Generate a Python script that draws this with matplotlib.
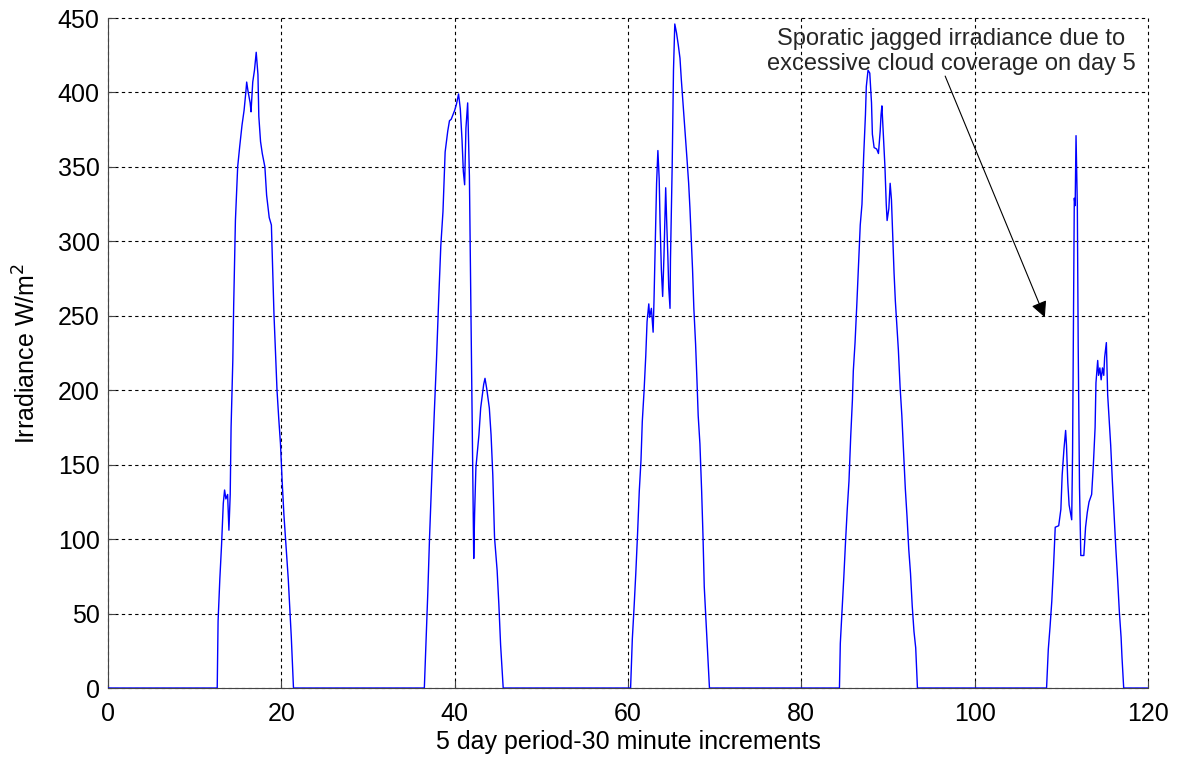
import numpy as np
import matplotlib
matplotlib.use("Agg")
import matplotlib.pyplot as plt

plt.rcParams['font.family'] = ['Liberation Sans', 'DejaVu Sans']

# hours (30 minute samples) and irradiance for each of the 5 days
day1_x = [12.6, 12.7, 12.9, 13.1, 13.3, 13.45, 13.6, 13.8, 13.95, 14.1, 14.2, 14.4, 14.5, 14.7, 14.96,
          15.2, 15.46, 15.7, 15.9, 16.0, 16.15, 16.4, 16.5, 16.7, 16.9, 17.1, 17.3, 17.4, 17.6, 17.8,
          18.1, 18.3, 18.6, 18.85, 19.0, 19.15, 19.3, 19.5, 19.7, 19.9, 20.1, 20.3, 20.5, 20.8, 21.0,
          21.15, 21.4]
day1_y = [0, 45, 73, 96, 124, 133, 127, 130, 106, 130, 175, 220, 257, 314, 350,
          364, 378, 388, 400, 407, 401, 393, 387, 407, 415, 427, 412, 384, 367, 359,
          350, 331, 316, 311, 280, 251, 229, 200, 181, 164, 138, 116, 99, 73, 51,
          34, 0]

day2_x = [36.5, 36.7, 36.9, 37.1, 37.4, 37.65, 37.9, 38.15, 38.4, 38.65, 38.9, 39.2, 39.4, 39.6,
          40.0, 40.2, 40.45, 40.65, 40.85, 41.0, 41.15, 41.3, 41.5, 41.7, 41.9, 42.1, 42.2, 42.3,
          42.45, 42.8, 43.0, 43.35, 43.5, 43.7, 44.0, 44.2, 44.4, 44.6, 44.9, 45.1, 45.3, 45.6]
day2_y = [0, 32, 64, 101, 148, 185, 220, 260, 297, 320, 360, 374, 381, 382,
          388, 392, 399, 389, 368, 347, 338, 376, 393, 344, 241, 140, 87, 117,
          148, 170, 188, 204, 208, 201, 188, 170, 143, 101, 79, 56, 29, 0]

day3_x = [60.3, 60.5, 60.7, 60.9, 61.1, 61.3, 61.5, 61.65, 61.85, 62.05, 62.2, 62.4, 62.5, 62.7,
          62.9, 63.0, 63.15, 63.3, 63.45, 63.6, 63.7, 63.85, 64.0, 64.15, 64.35, 64.45, 64.6, 64.7,
          64.85, 64.9, 65.1, 65.25, 65.4, 65.6, 65.8, 66.0, 66.15, 66.4, 66.6, 66.8, 67.0, 67.15,
          67.3, 67.45, 67.6, 67.8, 67.95, 68.1, 68.3, 68.5, 68.65, 68.8, 69.0, 69.15, 69.4]
day3_y = [0, 33, 54, 77, 103, 132, 153, 179, 199, 223, 246, 258, 249, 255,
          239, 260, 298, 339, 361, 342, 313, 281, 263, 290, 336, 316, 290, 269,
          255, 287, 351, 415, 446, 440, 432, 423, 409, 389, 374, 356, 339, 322,
          301, 281, 255, 231, 208, 183, 164, 132, 103, 68, 45, 28, 0]

day4_x = [84.4, 84.5, 84.7, 84.9, 85.1, 85.3, 85.5, 85.7, 85.9, 86.0, 86.2, 86.4, 86.6, 86.8,
          87.0, 87.2, 87.4, 87.5, 87.7, 87.9, 88.1, 88.2, 88.4, 88.7, 88.9, 89.1, 89.2, 89.3,
          89.45, 89.65, 89.8, 89.9, 90.1, 90.25, 90.4, 90.55, 90.7, 90.85, 91.0, 91.2, 91.4,
          91.6, 91.8, 92.0, 92.2, 92.4, 92.6, 92.8, 93.0, 93.2, 93.4]
day4_y = [0, 30, 52, 74, 98, 120, 139, 169, 194, 213, 232, 257, 284, 311,
          325, 358, 385, 404, 415, 413, 393, 372, 363, 362, 359, 374, 385, 391,
          374, 350, 325, 314, 322, 339, 328, 303, 279, 260, 246, 227, 202,
          183, 158, 134, 115, 93, 77, 55, 38, 27, 0]

day5_x = [108.3, 108.5, 108.7, 108.9, 109.1, 109.3, 109.7, 109.95, 110.1, 110.3, 110.5, 110.6,
          110.75, 110.9, 111.05, 111.2, 111.3, 111.4, 111.5, 111.6, 111.7, 111.85, 111.95, 112.1,
          112.25, 112.6, 112.8, 113.0, 113.2, 113.5, 113.7, 113.9, 114.0, 114.2, 114.3, 114.45,
          114.6, 114.75, 114.9, 115.0, 115.2, 115.35, 115.5, 115.7, 115.9, 116.1, 116.3, 116.5,
          116.7, 116.9, 117.0, 117.2]
day5_y = [0, 26, 41, 58, 81, 108, 109, 120, 143, 160, 173, 163,
          138, 123, 118, 113, 158, 242, 329, 324, 371, 324, 230, 135,
          89, 89, 108, 118, 125, 130, 150, 175, 205, 220, 210, 215,
          207, 215, 210, 222, 232, 197, 182, 163, 138, 115, 93, 73,
          51, 34, 21, 0]

days_x = [day1_x, day2_x, day3_x, day4_x, day5_x]
days_y = [day1_y, day2_y, day3_y, day4_y, day5_y]

# join the days, night values are zero
x = [0.0]
y = [0.0]
for dx, dy in zip(days_x, days_y):
    x += dx
    y += dy
x.append(120.0)
y.append(0.0)
x = np.array(x)
y = np.array(y)

fig = plt.figure(figsize=(11.78, 7.61), dpi=100)
ax = fig.add_axes([0.0917, 0.0959, 0.8828, 0.8804])

ax.plot(x, y, color=(0, 0, 1), lw=1.0, zorder=3)

ax.set_xlim(0, 120)
ax.set_ylim(0, 450)
ax.set_xticks(np.arange(0, 121, 20))
ax.set_yticks(np.arange(0, 451, 50))
ax.tick_params(direction='in', labelsize=18, length=5, color='#444444')
ax.tick_params(axis='x', pad=10)
ax.tick_params(axis='y', pad=6)
ax.spines['top'].set_visible(False)
ax.spines['right'].set_visible(False)
ax.spines['left'].set_color('#444444')
ax.spines['bottom'].set_color('#444444')
ax.grid(True, color='black', linestyle=(0, (3, 3)), linewidth=0.8)
for gl in ax.get_xgridlines() + ax.get_ygridlines():
    gl.set_clip_on(False)

ax.set_xlabel('5 day period-30 minute increments', fontsize=18, labelpad=3)
ax.set_ylabel('Irradiance W/m$^2$', fontsize=18, labelpad=12)

# note and arrow pointing at day 5
ax.text(97.3, 412, 'Sporatic jagged irradiance due to\nexcessive cloud coverage on day 5',
        ha='center', va='bottom', fontsize=17, color='#262626', linespacing=1.15)
ax.annotate('', xy=(108.1, 249), xytext=(96.6, 411),
            arrowprops=dict(arrowstyle='-|>', color='black', lw=0.8,
                            mutation_scale=24, shrinkA=0, shrinkB=0))

fig.savefig('out.png', dpi=100)
